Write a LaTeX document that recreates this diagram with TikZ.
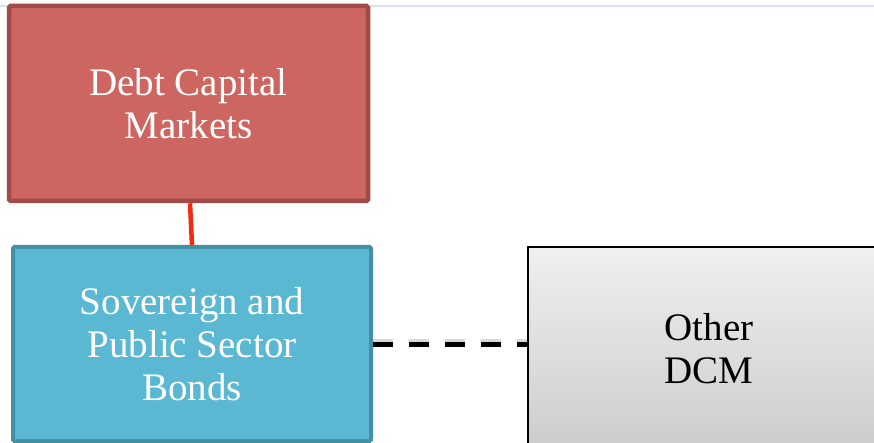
\documentclass[tikz,border=0pt]{standalone}
\usepackage{fontspec}
\setmainfont{Liberation Serif}
\usetikzlibrary{shadings}
\definecolor{redfill}{HTML}{CD6660}
\definecolor{redline}{HTML}{A04B47}
\definecolor{bluefill}{HTML}{5BB8D2}
\definecolor{blueline}{HTML}{4390A5}
\definecolor{conred}{HTML}{F42A0E}
\definecolor{topline}{HTML}{D6E4F5}
\tikzset{
  box/.style={rectangle, rounded corners=1.5pt, align=center, font=\fontsize{39}{43}\selectfont, inner sep=0pt},
  redbox/.style={box, draw=redline, fill=redfill, line width=4.5pt, text=white, minimum width=359pt, minimum height=195pt},
  bluebox/.style={box, draw=blueline, fill=bluefill, line width=4pt, text=white, minimum width=358pt, minimum height=194pt},
  graybox/.style={box, rounded corners=0pt, draw=black, line width=1.5pt, top color=gray!12, bottom color=gray!40, text=black, minimum width=362pt, minimum height=204pt},
  solidlink/.style={draw=conred, line width=4.5pt},
  dashlink/.style={draw=black, line width=5pt, dash pattern=on 20pt off 16pt},
}
\begin{document}
\begin{tikzpicture}[x=1pt,y=-1pt]
\useasboundingbox (0,0) rectangle (874,443);
\begin{scope}
\clip (0,0) rectangle (874,443);
\draw[topline, line width=2pt] (0,6) -- (874,6);
\node[redbox] (dcm) at (188.5,103.5) {Debt Capital\\Markets};
\node[bluebox] (sov) at (192,344) {Sovereign and\\Public Sector\\Bonds};
\node[graybox] (other) at (709,349) {Other\\DCM};
\path[solidlink] ([xshift=1.5pt]dcm.south) -- (sov.north);
\draw[black!25, line width=5pt, dash pattern=on 20pt off 16pt, opacity=0.6] ([yshift=2.5pt]sov.east) -- ([yshift=2.5pt]other.west |- sov.east);
\path[dashlink] (sov.east) -- (other.west |- sov.east);
\end{scope}
\end{tikzpicture}
\end{document}
